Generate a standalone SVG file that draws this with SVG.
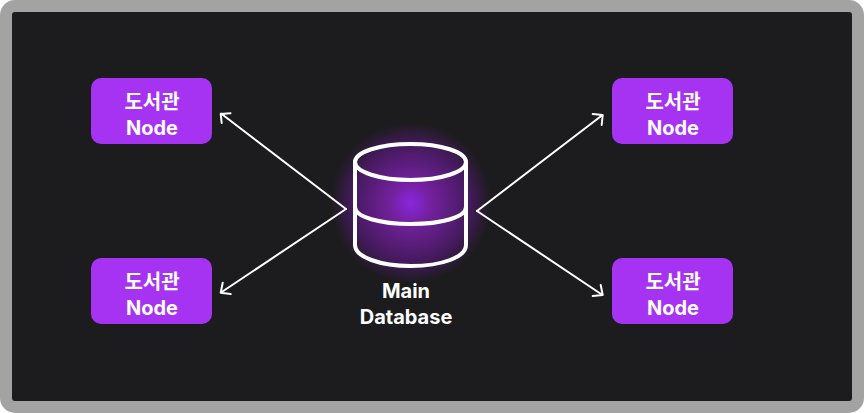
<svg xmlns="http://www.w3.org/2000/svg" width="864" height="413" viewBox="0 0 864 413">
<style>
.node{fill:#a633f2}
.t{font-family:Inter,"Noto Sans CJK KR",sans-serif;font-weight:700;font-size:20px;fill:#fff;text-anchor:middle}
.c{fill:none;stroke:#fff;stroke-width:2;stroke-linecap:round;stroke-linejoin:round}
.db{fill:none;stroke:#fff;stroke-width:4;stroke-linejoin:round}
</style>
<defs>
<radialGradient id="glow" gradientUnits="userSpaceOnUse" cx="411" cy="203" r="80">
<stop offset="0" stop-color="#8a25e0"/>
<stop offset="0.25" stop-color="#74219f"/>
<stop offset="0.72" stop-color="#461a5f"/>
<stop offset="1" stop-color="#1c1c1e"/>
</radialGradient>
</defs>
<rect id="frame" x="6" y="6" width="852" height="401" rx="9" fill="#1c1c1e" stroke="#a3a3a3" stroke-width="12"/>
<circle id="db-glow" cx="411" cy="203" r="80" fill="url(#glow)"/>
<g id="connectors" class="c">
<path d="M346 209L221 113.500M230.500 113.300L220.700 114L221.700 123"/>
<path d="M346 209L221 292.500M230.700 294L220.700 292.700L222.700 282.700"/>
<path d="M477 211L602.500 115M592.700 114L602.700 115L601.700 125"/>
<path d="M477 211L602.500 295M592.700 296L602.700 295L600.700 285"/>
</g>
<g id="main-database">
<path class="db" d="M355 162V245C355 257 380 266 411 266C442 266 466 257 466 245V162"/>
<ellipse class="db" cx="410.500" cy="162" rx="55.500" ry="18"/>
<path class="db" d="M355 207C355 217 380 224 411 224C442 224 466 217 466 207"/>
<text class="t" x="406" y="298">Main</text>
<text class="t" x="406" y="324">Database</text>
</g>
<g id="node-top-left"><rect class="node" x="91" y="78" width="121" height="66" rx="10"/><text class="t" x="152" y="109">도서관</text><text class="t" x="152" y="135">Node</text></g>
<g id="node-bottom-left"><rect class="node" x="91" y="258" width="121" height="66" rx="10"/><text class="t" x="152" y="289">도서관</text><text class="t" x="152" y="315">Node</text></g>
<g id="node-top-right"><rect class="node" x="612" y="78" width="121" height="66" rx="10"/><text class="t" x="673" y="109">도서관</text><text class="t" x="673" y="135">Node</text></g>
<g id="node-bottom-right"><rect class="node" x="612" y="258" width="121" height="66" rx="10"/><text class="t" x="673" y="289">도서관</text><text class="t" x="673" y="315">Node</text></g>
</svg>
